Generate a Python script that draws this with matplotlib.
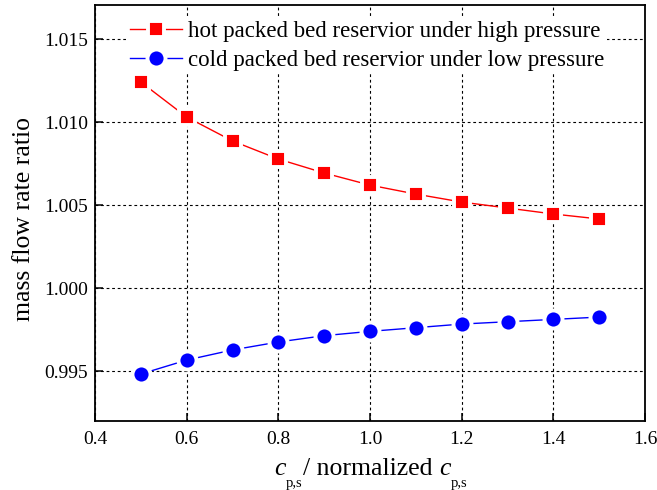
import matplotlib
matplotlib.use("Agg")
import matplotlib.pyplot as plt

x = [0.5, 0.6, 0.7, 0.8, 0.9, 1.0, 1.1, 1.2, 1.3, 1.4, 1.5]
hot = [1.01241, 1.01030, 1.00886, 1.00777, 1.00693, 1.00620, 1.00566, 1.00518, 1.00482, 1.00446, 1.00416]
cold = [0.99482, 0.99566, 0.99627, 0.99675, 0.99713, 0.99739, 0.99761, 0.99783, 0.99797, 0.99811, 0.99825]
labels = ["hot packed bed reservior under high pressure",
          "cold packed bed reservior under low pressure"]
xticks = [0.4, 0.6, 0.8, 1.0, 1.2, 1.4, 1.6]
yticks = [0.995, 1.000, 1.005, 1.010, 1.015]

plt.rcParams['font.family'] = ['Liberation Serif']

W, H = 657, 490
fig = plt.figure(figsize=(W / 100, H / 100), dpi=100)
ax = fig.add_axes([95 / W, 69 / H, 550 / W, 416 / H])

ax.plot(x, hot, color='red', lw=1.0, marker='s', ms=11.5, mfc='red',
        mec='white', mew=2.8, label=labels[0])
ax.plot(x, cold, color='blue', lw=1.0, marker='o', ms=13, mfc='blue',
        mec='white', mew=2.8, label=labels[1])

ax.set_xlim(0.4, 1.6)
ax.set_ylim(0.99199, 1.01705)
ax.set_xticks(xticks)
ax.set_yticks(yticks)
ax.set_xticklabels([f'{v:.1f}' for v in xticks])
ax.set_yticklabels([f'{v:.3f}' for v in yticks])
ax.grid(True, color='black', linestyle=(0, (2.5, 2.5)), linewidth=0.8)
ax.set_axisbelow(True)
ax.tick_params(direction='in', length=6, width=1.1, labelsize=14,
               top=False, right=False)
ax.tick_params(axis='y', pad=5)
ax.tick_params(axis='x', pad=7)
for s in ax.spines.values():
    s.set_linewidth(1.3)

ax.set_ylabel('mass flow rate ratio', fontsize=18.5, labelpad=6.5)
ax.yaxis.label.set_y(0.486)

leg = ax.legend(loc='upper left', bbox_to_anchor=(0.057, 0.970), frameon=True,
                fontsize=16.5, handlelength=2.27, handletextpad=0.26,
                labelspacing=0.35, borderaxespad=0.0, borderpad=0.15,
                fancybox=False)
leg.get_frame().set_facecolor('white')
leg.get_frame().set_edgecolor('none')
leg.get_frame().set_alpha(1.0)
leg.set_zorder(5)

# x label assembled from pieces: italic c with low subscript
renderer = fig.canvas.get_renderer()
base = H - 475
sub = H - 487
pieces = [('c', 18.5, 'italic', base, 0),
          ('p,s', 10.5, 'normal', sub, 1),
          ('/ normalized ', 18.5, 'normal', base, 6),
          ('c', 18.5, 'italic', base, 0),
          ('p,s', 10.5, 'normal', sub, 1)]
xpos = 274.0
for txt, size, style, yb, gap in pieces:
    t = fig.text(xpos / W, yb / H, txt, fontsize=size, style=style,
                 va='baseline', ha='left')
    bb = t.get_window_extent(renderer)
    xpos = bb.x1 + gap
    if txt.endswith(' '):
        xpos = bb.x1

fig.savefig('out.png', dpi=100)
